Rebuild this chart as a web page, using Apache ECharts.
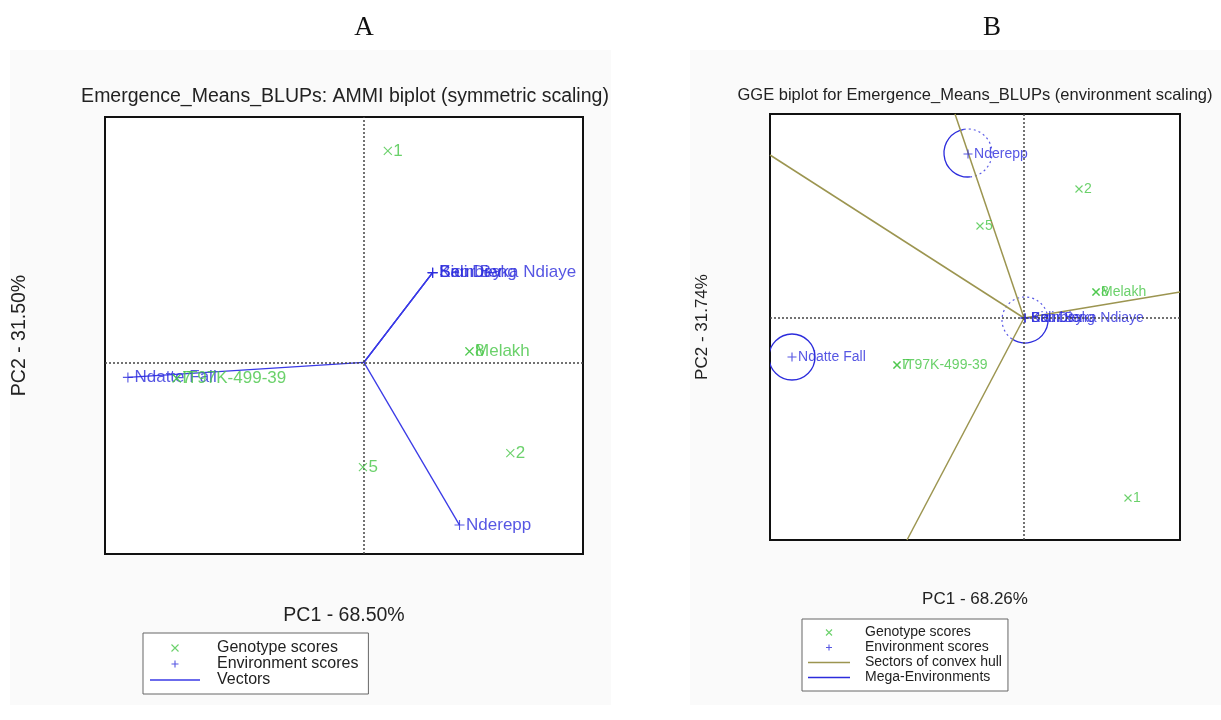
<!DOCTYPE html>
<html>
<head>
<meta charset="utf-8">
<script src="https://cdn.jsdelivr.net/npm/echarts@6/dist/echarts.min.js"></script>
<style>
  html, body { margin: 0; padding: 0; background: #fff; }
  #chart { width: 1221px; height: 720px; }
</style>
</head>
<body>
<div id="chart"></div>
<script>
// ---- Panel A: AMMI biplot (symmetric scaling) ----
const ammiGenoNames = ['1', '2', '5', '8', 'Melakh', '7', 'IT97K-499-39'];
const ammiGenoPC1 = [0.24, 1.47, -0.01, 1.06, 1.06, -1.88, -1.88];
const ammiGenoPC2 = [2.12, -0.91, -1.05, 0.11, 0.11, -0.16, -0.16];
const ammiEnvNames = ['Ndatte Fall', 'Nderepp', 'Sidi Dieng', 'Bambey', 'Keur Baka Ndiaye'];
const ammiEnvPC1 = [-2.37, 0.96, 0.69, 0.69, 0.69];
const ammiEnvPC2 = [-0.15, -1.63, 0.90, 0.90, 0.90];
const ammiAxisNames = ['PC1 - 68.50%', 'PC2 - 31.50%'];

// ---- Panel B: GGE biplot (environment scaling) ----
const ggeGenoNames = ['1', '2', '5', '8', 'Melakh', '7', 'IT97K-499-39'];
const ggeGenoPC1 = [1.04, 0.55, -0.44, 0.72, 0.72, -1.27, -1.27];
const ggeGenoPC2 = [-1.80, 1.29, 0.92, 0.26, 0.26, -0.47, -0.47];
const ggeEnvNames = ['Ndatte Fall', 'Nderepp', 'Sidi Dieng', 'Bambey', 'Keur Baka Ndiaye'];
const ggeEnvPC1 = [-2.32, -0.56, 0.01, 0.01, 0.01];
const ggeEnvPC2 = [-0.39, 1.64, 0.00, 0.00, 0.00];
const ggeAxisNames = ['PC1 - 68.26%', 'PC2 - 31.74%'];
// sector rays from the origin, ending where they leave the plot frame
const sectorPC1 = [-0.69, -2.54, 1.56, -1.17];
const sectorPC2 = [2.04, 1.63, 0.26, -2.22];
// mega-environment circles: centre, radius, solid arc from/to (degrees)
const megaPC1 = [-0.56, -2.32, 0.01];
const megaPC2 = [1.65, -0.39, -0.02];
const megaRadius = [0.24, 0.23, 0.23];
const megaSolidFrom = [100, 0, 235];
const megaSolidTo = [275, 360, 375];

const panelTitles = [
  'Emergence_Means_BLUPs: AMMI biplot (symmetric scaling)',
  'GGE biplot for Emergence_Means_BLUPs (environment scaling)'
];

const GREEN = '#46c646';
const BLUE = '#2c2cdc';
const OLIVE = '#9c9550';
const FONT = '"Liberation Sans", Arial, sans-serif';
const CROSS = 'path://M0,0L10,10M10,0L0,10';
const PLUS = 'path://M5,0L5,10M0,5L10,5';
const BAR = 'path://M0,0H30V1H0Z';

const zip = (a, b) => a.map((v, i) => [v, b[i]]);

function pointSeries(name, idx, names, xs, ys, symbol, color, fontSize, size, z) {
  return {
    name: name,
    type: 'scatter',
    xAxisIndex: idx, yAxisIndex: idx,
    symbol: symbol,
    symbolSize: size,
    z: z,
    itemStyle: { color: 'rgba(0,0,0,0)', borderColor: color, borderWidth: 1.1 },
    label: {
      show: true, position: 'right', distance: 1,
      formatter: p => names[p.dataIndex],
      color: color, fontSize: fontSize, fontFamily: FONT
    },
    emphasis: { disabled: true },
    data: zip(xs, ys)
  };
}

function zeroLines() {
  return {
    silent: true, symbol: 'none', animation: false,
    label: { show: false },
    lineStyle: { color: '#444', type: [2, 2], width: 1.5 },
    data: [{ xAxis: 0 }, { yAxis: 0 }]
  };
}

const series = [];

// Panel A
const ammiGeno = pointSeries('Genotype scores', 0, ammiGenoNames, ammiGenoPC1, ammiGenoPC2, CROSS, GREEN, 17, 8, 5);
ammiGeno.markLine = zeroLines();
series.push(ammiGeno);
ammiEnvPC1.forEach((x, i) => {
  series.push({
    name: 'Vectors', type: 'line', xAxisIndex: 0, yAxisIndex: 0,
    symbol: 'none', z: 3,
    itemStyle: { color: '#3a3ae6' },
    lineStyle: { color: '#3a3ae6', width: 1.3 },
    emphasis: { disabled: true },
    data: [[0, 0], [x, ammiEnvPC2[i]]]
  });
});
series.push(pointSeries('Environment scores', 0, ammiEnvNames, ammiEnvPC1, ammiEnvPC2, PLUS, BLUE, 17, 10, 4));

// Panel B
const ggeGeno = pointSeries('Genotype scores', 1, ggeGenoNames, ggeGenoPC1, ggeGenoPC2, CROSS, GREEN, 14, 7, 5);
ggeGeno.markLine = zeroLines();
series.push(ggeGeno);
sectorPC1.forEach((x, i) => {
  series.push({
    name: 'Sectors of convex hull', type: 'line', xAxisIndex: 1, yAxisIndex: 1,
    symbol: 'none', z: 3, clip: true,
    itemStyle: { color: OLIVE },
    lineStyle: { color: OLIVE, width: 1.5 },
    emphasis: { disabled: true },
    data: [[0, 0], [x, sectorPC2[i]]]
  });
});
series.push({
  name: 'Mega-Environments', type: 'custom', xAxisIndex: 1, yAxisIndex: 1,
  clip: true, z: 3,
  itemStyle: { color: BLUE },
  data: megaPC1.map((x, i) => [x, megaPC2[i], megaRadius[i], megaSolidFrom[i], megaSolidTo[i]]),
  renderItem: function (params, api) {
    const c = api.coord([api.value(0), api.value(1)]);
    const r = api.size([api.value(2), 0])[0];
    const a0 = api.value(3) * Math.PI / 180;
    const a1 = api.value(4) * Math.PI / 180;
    const children = [{
      type: 'arc',
      shape: { cx: c[0], cy: c[1], r: r, startAngle: -a1, endAngle: -a0, clockwise: true },
      style: { fill: 'none', stroke: BLUE, lineWidth: 1.3 }
    }];
    if (a1 - a0 < 2 * Math.PI - 1e-6) {
      children.push({
        type: 'arc',
        shape: { cx: c[0], cy: c[1], r: r, startAngle: -a0, endAngle: -a1 + 2 * Math.PI, clockwise: true },
        style: { fill: 'none', stroke: '#5a5ae6', lineWidth: 1.2, lineDash: [2, 3] }
      });
    }
    return { type: 'group', children: children };
  }
});
series.push(pointSeries('Environment scores', 1, ggeEnvNames, ggeEnvPC1, ggeEnvPC2, PLUS, BLUE, 14, 9, 4));

function axisCommon(name, gap, fontSize) {
  return {
    type: 'value', name: name, nameLocation: 'middle', nameGap: gap,
    nameTextStyle: { fontSize: fontSize, color: '#222', fontFamily: FONT },
    axisLine: { show: false }, axisTick: { show: false },
    axisLabel: { show: false }, splitLine: { show: false }
  };
}

const option = {
  animation: false,
  backgroundColor: '#fff',
  graphic: [
    { type: 'rect', z: -10, shape: { x: 10, y: 50, width: 601, height: 655 }, style: { fill: '#fafafa' } },
    { type: 'rect', z: -10, shape: { x: 690, y: 50, width: 531, height: 655 }, style: { fill: '#fafafa' } },
    { type: 'text', x: 364, y: 28, style: { text: 'A', fontFamily: '"Liberation Serif", serif', fontSize: 27, fill: '#111', align: 'center', verticalAlign: 'middle' } },
    { type: 'text', x: 992, y: 28, style: { text: 'B', fontFamily: '"Liberation Serif", serif', fontSize: 27, fill: '#111', align: 'center', verticalAlign: 'middle' } },
    { type: 'text', x: 345, y: 97, style: { text: panelTitles[0], fontFamily: FONT, fontSize: 19.5, fill: '#222', align: 'center', verticalAlign: 'middle' } },
    { type: 'text', x: 975, y: 95, style: { text: panelTitles[1], fontFamily: FONT, fontSize: 16.5, fill: '#222', align: 'center', verticalAlign: 'middle' } }
  ],
  grid: [
    { left: 105, top: 117, width: 478, height: 437, show: true, backgroundColor: '#fff', borderColor: '#111', borderWidth: 2 },
    { left: 770, top: 114, width: 410, height: 426, show: true, backgroundColor: '#fff', borderColor: '#111', borderWidth: 2 }
  ],
  xAxis: [
    Object.assign(axisCommon(ammiAxisNames[0], 52, 19.5), { gridIndex: 0, min: -2.6, max: 2.2 }),
    Object.assign(axisCommon(ggeAxisNames[0], 51, 17), { gridIndex: 1, min: -2.54, max: 1.56 })
  ],
  yAxis: [
    Object.assign(axisCommon(ammiAxisNames[1], 75, 19.5), { gridIndex: 0, min: -1.92, max: 2.46 }),
    Object.assign(axisCommon(ggeAxisNames[1], 59, 17), { gridIndex: 1, min: -2.22, max: 2.04 })
  ],
  legend: [
    {
      left: 143, top: 633, orient: 'vertical', selectedMode: false,
      data: ['Genotype scores', 'Environment scores', { name: 'Vectors', icon: BAR }],
      itemWidth: 50, itemHeight: 7, itemGap: 0,
      padding: [7, 10, 6, 7],
      borderColor: '#666', borderWidth: 1, backgroundColor: '#fff',
      itemStyle: { borderWidth: 1.1 },
      textStyle: { fontSize: 16, lineHeight: 15.5, color: '#222', fontFamily: FONT, padding: [0, 0, 0, 12] }
    },
    {
      left: 802, top: 619, orient: 'vertical', selectedMode: false,
      data: [
        'Genotype scores', 'Environment scores',
        { name: 'Sectors of convex hull', icon: BAR },
        { name: 'Mega-Environments', icon: BAR }
      ],
      itemWidth: 42, itemHeight: 6, itemGap: 0,
      padding: [6, 6, 6, 6],
      borderColor: '#666', borderWidth: 1, backgroundColor: '#fff',
      itemStyle: { borderWidth: 1.1 },
      textStyle: { fontSize: 14, lineHeight: 15, color: '#222', fontFamily: FONT, padding: [0, 0, 0, 10] }
    }
  ],
  series: series
};

const chart = echarts.init(document.getElementById('chart'), null, { renderer: 'canvas' });
chart.setOption(option);
</script>
</body>
</html>
